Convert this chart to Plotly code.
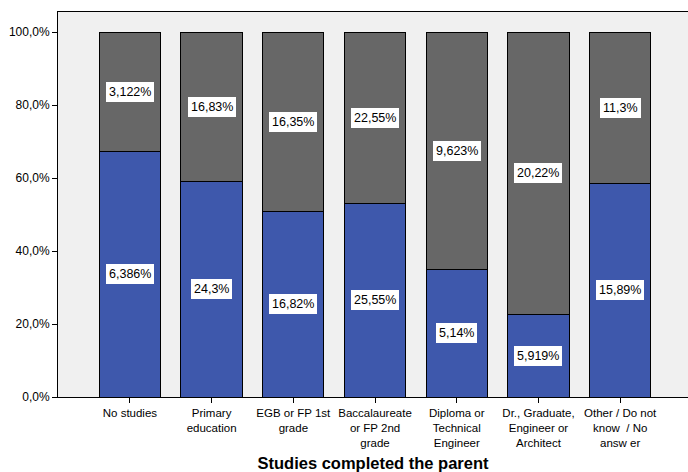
import plotly.graph_objects as go

categories = [
    "No studies",
    "Primary<br>education",
    "EGB or FP 1st<br>grade",
    "Baccalaureate<br>or FP 2nd<br>grade",
    "Diploma or<br>Technical<br>Engineer",
    "Dr., Graduate,<br>Engineer or<br>Architect",
    "Other / Do not<br>know  / No<br>answ er",
]
blue_values = [6.386, 24.3, 16.82, 25.55, 5.14, 5.919, 15.89]
grey_values = [3.122, 16.83, 16.35, 22.55, 9.623, 20.22, 11.3]
y_ticks = [0, 20, 40, 60, 80, 100]
x_title = "Studies completed the parent"

FONT = "Liberation Sans, Arial, sans-serif"
BLUE = "#3E58AC"
GREY = "#676767"

fig = go.Figure()
fig.add_trace(go.Bar(x=categories, y=blue_values, marker=dict(color=BLUE, line=dict(color="black", width=1)),
                     hoverinfo="skip"))
fig.add_trace(go.Bar(x=categories, y=grey_values, marker=dict(color=GREY, line=dict(color="black", width=1)),
                     hoverinfo="skip"))


def fmt(v):
    return str(v).replace(".", ",") + "%"


for cat, b, g in zip(categories, blue_values, grey_values):
    total = b + g
    bp = b / total * 100
    gp = g / total * 100
    for val, ymid in ((b, bp / 2), (g, bp + gp / 2)):
        fig.add_annotation(x=cat, y=ymid, text=fmt(val), showarrow=False,
                           bgcolor="white", borderpad=3, borderwidth=0,
                           font=dict(family=FONT, size=12.5, color="black"))

fig.update_layout(
    width=688, height=472,
    margin=dict(l=58, r=0, t=12, b=75),
    barmode="stack", barnorm="percent", bargap=0.25,
    showlegend=False,
    paper_bgcolor="white", plot_bgcolor="#F0F0F0",
    font=dict(family=FONT, size=11, color="black"),
)
fig.update_xaxes(
    range=[-0.88, 6.83], showline=True, linecolor="black", linewidth=1, mirror=True,
    ticks="outside", ticklen=5, tickcolor="black", showgrid=False,
    tickfont=dict(family=FONT, size=11.5),
    title=dict(text="<b>" + x_title + "</b>", font=dict(family=FONT, size=16.5), standoff=12),
)
fig.update_yaxes(
    range=[0, 105.5], tickmode="array", tickvals=y_ticks,
    ticktext=[f"{t:.1f}".replace(".", ",") + "%" for t in y_ticks],
    showline=True, linecolor="black", linewidth=1, mirror=False,
    ticks="outside", ticklen=5, tickcolor="black", showgrid=False, zeroline=False,
    tickfont=dict(family=FONT, size=12),
)

fig.write_html("out.html")
